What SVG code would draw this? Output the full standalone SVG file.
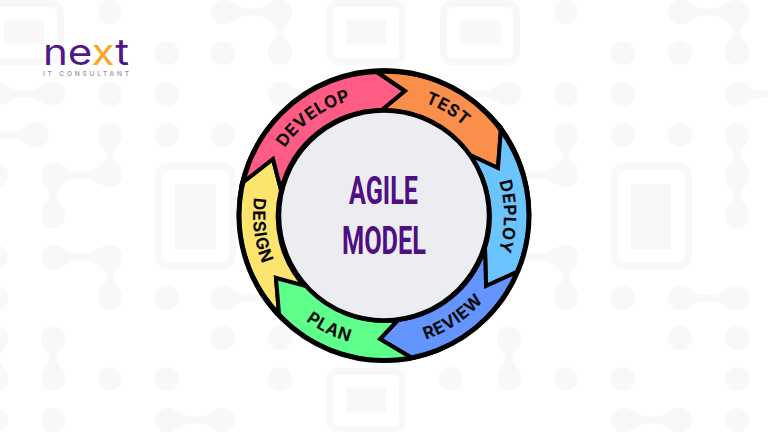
<svg xmlns="http://www.w3.org/2000/svg" xmlns:xlink="http://www.w3.org/1999/xlink" width="768" height="432" viewBox="0 0 768 432">
<style>
.bg{fill:#f9f7f8}
.fr{fill:none;stroke:#f9f7f8;stroke-width:7}
.arrow{stroke:#000;stroke-width:4;stroke-linejoin:miter}
.lbl{font-family:"Inter","Liberation Sans",sans-serif;font-weight:700;font-size:17px;fill:#0a0a0a;text-anchor:middle}
.ttl{font-family:"Roboto","Liberation Sans",sans-serif;font-weight:700;font-size:38px;fill:#4f0f82}
</style>
<defs>
<path id="h" d="M0,-12C11,-12 13,-3.5 24,-3.5H32.8C43.8,-3.5 45.8,-12 56.8,-12V12C45.8,12 43.8,3.5 32.8,3.5H24C13,3.5 11,12 0,12Z"/>
<path id="v" d="M-12,0C-12,12 -3.5,12 -3.5,20.4C-3.5,28.8 -12,28.8 -12,40.8H12C12,28.8 3.5,28.8 3.5,20.4C3.5,12 12,12 12,0Z"/>
<circle id="d" r="12"/>
<path id="p-dev" d="M264.7,228A120,120 0 0 1 432.8,105.9"/>
<path id="p-tst" d="M325.8,110.5A120,120 0 0 1 504,217.6"/>
<path id="p-dep" d="M444.9,112.1A120,120 0 0 1 443.1,319.9"/>
<path id="p-rev" d="M326.6,333.2A131,131 0 0 0 514.7,206.4"/>
<path id="p-pln" d="M253.3,224.6A131,131 0 0 0 457.3,324.1"/>
<path id="p-dsg" d="M305.2,110.9A131,131 0 0 0 332.8,336.1"/>
</defs>
<rect width="768" height="432" fill="#fff"/>
<g id="background" class="bg">
<rect class="fr" x="-12.500" y="3.500" width="73" height="58" rx="9"/>
<rect x="4" y="20.500" width="40" height="24"/>
<rect class="fr" x="329.500" y="3.500" width="73" height="58" rx="9"/>
<rect x="346" y="20.500" width="40" height="24"/>
<rect class="fr" x="443.500" y="3.500" width="73" height="58" rx="9"/>
<rect x="460.500" y="20.500" width="40" height="24"/>
<rect class="fr" x="158.500" y="166.500" width="74" height="99" rx="9"/>
<rect x="175" y="184" width="41" height="65"/>
<rect class="fr" x="614.500" y="166.500" width="74" height="99" rx="9"/>
<rect x="631" y="184" width="40" height="65"/>
<rect class="fr" x="329.500" y="371.500" width="73" height="58" rx="9"/>
<rect x="346" y="387.500" width="40" height="24"/>
<g>
<use href="#d" x="110" y="12"/><use href="#d" x="223" y="12"/><use href="#d" x="280" y="12"/><use href="#d" x="566" y="12"/><use href="#d" x="680" y="12"/><use href="#d" x="737" y="12"/>
<use href="#d" x="167" y="53"/><use href="#d" x="223" y="53"/><use href="#d" x="280" y="53"/><use href="#d" x="623" y="53"/><use href="#d" x="680" y="53"/><use href="#d" x="737" y="53"/>
<use href="#d" x="-4" y="94"/><use href="#d" x="53" y="94"/><use href="#d" x="110" y="94"/><use href="#d" x="167" y="94"/><use href="#d" x="280" y="94"/><use href="#d" x="509" y="94"/><use href="#d" x="566" y="94"/><use href="#d" x="623" y="94"/><use href="#d" x="737" y="94"/>
<use href="#d" x="37" y="135"/><use href="#d" x="110" y="135"/><use href="#d" x="167" y="135"/><use href="#d" x="223" y="135"/><use href="#d" x="566" y="135"/><use href="#d" x="623" y="135"/><use href="#d" x="680" y="135"/><use href="#d" x="737" y="135"/>
<use href="#d" x="-4" y="175"/><use href="#d" x="53" y="175"/><use href="#d" x="110" y="175"/><use href="#d" x="566" y="175"/><use href="#d" x="737" y="175"/>
<use href="#d" x="53" y="216"/><use href="#d" x="737" y="216"/>
<use href="#d" x="-4" y="257"/><use href="#d" x="53" y="257"/><use href="#d" x="110" y="257"/><use href="#d" x="566" y="257"/>
<use href="#d" x="-4" y="298"/><use href="#d" x="110" y="298"/><use href="#d" x="167" y="298"/><use href="#d" x="223" y="298"/><use href="#d" x="566" y="298"/><use href="#d" x="623" y="298"/><use href="#d" x="680" y="298"/><use href="#d" x="737" y="298"/>
<use href="#d" x="-4" y="338"/><use href="#d" x="53" y="338"/><use href="#d" x="223" y="338"/><use href="#d" x="280" y="338"/><use href="#d" x="509" y="338"/><use href="#d" x="680" y="338"/><use href="#d" x="737" y="338"/>
<use href="#d" x="-4" y="379"/><use href="#d" x="53" y="379"/><use href="#d" x="110" y="379"/><use href="#d" x="167" y="379"/><use href="#d" x="280" y="379"/><use href="#d" x="451" y="379"/><use href="#d" x="509" y="379"/><use href="#d" x="566" y="379"/><use href="#d" x="623" y="379"/><use href="#d" x="737" y="379"/>
<use href="#d" x="-4" y="420"/><use href="#d" x="53" y="420"/><use href="#d" x="167" y="420"/><use href="#d" x="223" y="420"/><use href="#d" x="623" y="420"/><use href="#d" x="680" y="420"/><use href="#d" x="737" y="420"/>
</g>
<g>
<use href="#h" x="223.200" y="12"/><use href="#h" x="680" y="12"/><use href="#h" x="-3.800" y="94"/><use href="#h" x="280" y="94"/><use href="#h" x="452" y="94"/><use href="#h" x="737" y="94"/>
<use href="#h" x="-20" y="135"/>
<use href="#h" x="53" y="175"/><use href="#h" x="509" y="175"/><use href="#h" x="53" y="257"/><use href="#h" x="509" y="257"/>
<use href="#h" x="223" y="298"/><use href="#h" x="680" y="298"/><use href="#h" x="166.500" y="420"/><use href="#h" x="623" y="420"/>
<use href="#v" x="280" y="12"/><use href="#v" x="737" y="12"/><use href="#v" x="110" y="134.500"/><use href="#v" x="53" y="175"/><use href="#v" x="566" y="134.500"/><use href="#v" x="737" y="134.500"/><use href="#v" x="737" y="175"/>
<use href="#v" x="53" y="338"/><use href="#v" x="-4" y="338"/><use href="#v" x="110" y="257"/><use href="#v" x="566" y="257"/><use href="#v" x="509" y="338"/>
</g>
</g>
<g id="logo">
<text x="43" y="65" font-family="Inter,'Liberation Sans',sans-serif" font-size="36" font-weight="400" textLength="86" lengthAdjust="spacingAndGlyphs" fill="#4f1a87">ne<tspan fill="#f5a623">x</tspan>t</text>
<text x="43" y="76" font-family="Inter,'Liberation Sans',sans-serif" font-size="6.500" font-weight="500" textLength="86" fill="#8f8f99">IT CONSULTANT</text>
</g>
<g id="connectors"></g>
<g id="design">
<path class="arrow" fill="#fde46e" d="M279,314A145,145 0 0 1 242,183L273,159L281,190A105,105 0 0 0 306,288L276,278Z"/>
<text class="lbl" letter-spacing="0.6"><textPath href="#p-dsg" startOffset="50%">DESIGN</textPath></text>
</g>
<g id="develop">
<path class="arrow" fill="#ff5c85" d="M242,183A145,145 0 0 1 377,72L405,91L382,110A105,105 0 0 0 281,190L273,159Z"/>
<text class="lbl" letter-spacing="0.6"><textPath href="#p-dev" startOffset="50%">DEVELOP</textPath></text>
</g>
<g id="test">
<path class="arrow" fill="#f98f4a" d="M377,72A145,145 0 0 1 501,128L498,168L470,155A105,105 0 0 0 382,110L405,91Z"/>
<text class="lbl" letter-spacing="0.6"><textPath href="#p-tst" startOffset="50%">TEST</textPath></text>
</g>
<g id="deploy">
<path class="arrow" fill="#6cc4ff" d="M501,128A145,145 0 0 1 517,272L486,286L485,248A105,105 0 0 0 470,155L498,168Z"/>
<text class="lbl" letter-spacing="0.6"><textPath href="#p-dep" startOffset="50%">DEPLOY</textPath></text>
</g>
<g id="review">
<path class="arrow" fill="#6495ff" d="M517,272A145,145 0 0 1 412,358L380,339L398,320A105,105 0 0 0 485,248L486,286Z"/>
<text class="lbl" letter-spacing="0.6"><textPath href="#p-rev" startOffset="50%">REVIEW</textPath></text>
</g>
<g id="plan">
<path class="arrow" fill="#5fff8c" d="M412,358A145,145 0 0 1 279,314L276,278L306,286A105,105 0 0 0 398,320L380,339Z"/>
<text class="lbl" letter-spacing="0.6"><textPath href="#p-pln" startOffset="50%">PLAN</textPath></text>
</g>
<circle cx="384" cy="215.500" r="145" fill="none" stroke="#000" stroke-width="5"/>
<g id="center">
<circle cx="384" cy="215.500" r="105" fill="#ecedf1" stroke="#000" stroke-width="4.500"/>
<text class="ttl" x="349" y="204" textLength="69" lengthAdjust="spacingAndGlyphs">AGILE</text>
<text class="ttl" x="342" y="254" textLength="84" lengthAdjust="spacingAndGlyphs">MODEL</text>
</g>
</svg>
